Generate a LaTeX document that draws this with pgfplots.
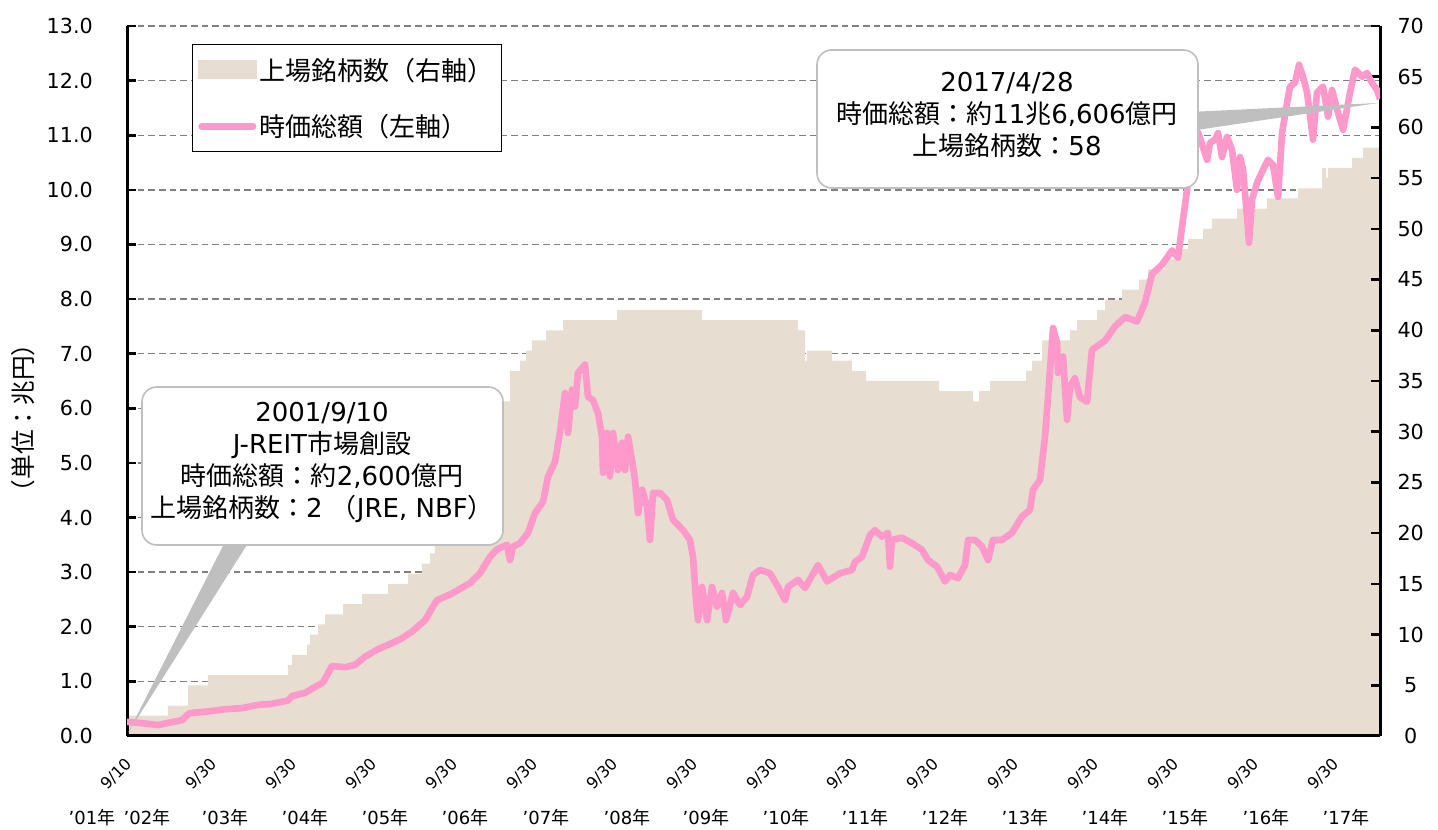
\documentclass[border=0pt]{standalone}
\usepackage{fontspec}
\setmainfont{DejaVu Sans}
\newfontfamily\jp{Noto Sans CJK JP}
\usepackage{pgfplots}
\pgfplotsset{compat=1.18}
\definecolor{beige}{RGB}{231,221,208}
\definecolor{pinkc}{RGB}{255,153,204}
\definecolor{gridc}{RGB}{128,128,128}
\definecolor{callg}{RGB}{191,191,191}

\pgfplotstableread{
x n
2001.690 2
2002.201 3
2002.451 5
2002.700 6
2003.698 7
2003.748 8
2003.936 9
2003.973 10
2004.073 11
2004.160 12
2004.385 13
2004.622 14
2004.946 15
2005.196 16
2005.370 17
2005.470 18
2005.532 19
2005.657 21
2005.782 23
2005.907 25
2006.031 27
2006.156 29
2006.268 31
2006.381 33
2006.468 36
2006.593 37
2006.668 38
2006.742 39
2006.917 40
2007.129 41
2007.803 42
2008.863 41
2010.061 40
2010.148 37
2010.173 38
2010.485 37
2010.734 36
2010.909 35
2011.820 34
2012.244 33
2012.319 34
2012.456 35
2012.905 36
2012.980 37
2013.105 39
2013.454 40
2013.541 41
2013.791 42
2013.891 43
2014.103 44
2014.315 45
2014.427 46
2014.639 47
2014.826 48
2014.926 49
2015.113 50
2015.225 51
2015.537 52
2015.912 53
2016.298 54
2016.598 56
2016.648 55
2016.673 56
2016.972 57
2017.109 58
2017.321 58
}\countdata

\pgfplotstableread{
x v
2001.690 0.26
2001.915 0.23
2002.077 0.20
2002.201 0.24
2002.376 0.29
2002.439 0.38
2002.476 0.42
2002.700 0.45
2002.913 0.49
2003.125 0.51
2003.324 0.57
2003.499 0.59
2003.698 0.65
2003.748 0.73
2003.911 0.79
2004.073 0.93
2004.135 0.98
2004.247 1.28
2004.410 1.26
2004.534 1.30
2004.659 1.45
2004.821 1.59
2004.996 1.70
2005.121 1.79
2005.245 1.91
2005.408 2.12
2005.495 2.34
2005.557 2.49
2005.657 2.55
2005.757 2.62
2005.969 2.80
2006.094 2.98
2006.218 3.28
2006.306 3.42
2006.431 3.50
2006.468 3.22
2006.505 3.47
2006.593 3.53
2006.693 3.72
2006.780 4.08
2006.880 4.29
2006.942 4.75
2007.029 5.02
2007.092 5.57
2007.154 6.28
2007.192 5.55
2007.241 6.34
2007.279 6.03
2007.316 6.65
2007.404 6.80
2007.441 6.21
2007.503 6.15
2007.566 5.91
2007.616 5.48
2007.628 4.82
2007.678 5.55
2007.715 4.75
2007.753 5.55
2007.815 4.87
2007.865 5.37
2007.903 4.87
2007.940 5.48
2007.990 5.05
2008.027 4.69
2008.065 4.08
2008.115 4.51
2008.177 4.20
2008.214 3.59
2008.252 4.45
2008.339 4.45
2008.427 4.32
2008.501 3.96
2008.626 3.77
2008.713 3.59
2008.751 3.28
2008.788 2.49
2008.813 2.12
2008.863 2.73
2008.926 2.12
2008.988 2.73
2009.050 2.37
2009.113 2.62
2009.163 2.12
2009.250 2.62
2009.337 2.40
2009.425 2.55
2009.499 2.95
2009.587 3.04
2009.711 2.98
2009.811 2.73
2009.899 2.49
2009.936 2.73
2010.061 2.86
2010.148 2.71
2010.310 3.13
2010.423 2.83
2010.585 2.98
2010.734 3.04
2010.772 3.19
2010.859 3.28
2010.959 3.68
2011.021 3.77
2011.109 3.65
2011.184 3.72
2011.208 3.10
2011.233 3.59
2011.358 3.63
2011.483 3.53
2011.608 3.41
2011.683 3.22
2011.795 3.10
2011.895 2.83
2011.957 2.95
2012.057 2.89
2012.144 3.13
2012.182 3.59
2012.269 3.59
2012.356 3.47
2012.431 3.22
2012.493 3.59
2012.606 3.59
2012.730 3.72
2012.855 4.02
2012.955 4.14
2012.992 4.51
2013.080 4.69
2013.142 5.48
2013.180 6.21
2013.242 7.47
2013.292 7.20
2013.304 6.65
2013.367 6.95
2013.417 5.79
2013.454 6.40
2013.516 6.55
2013.579 6.20
2013.666 6.12
2013.728 7.07
2013.891 7.24
2014.015 7.50
2014.140 7.67
2014.290 7.59
2014.390 7.94
2014.477 8.46
2014.602 8.63
2014.726 8.89
2014.801 8.76
2014.851 9.32
2014.914 10.00
2014.976 10.88
2015.051 11.06
2015.163 10.55
2015.200 10.86
2015.263 10.92
2015.300 11.04
2015.350 10.60
2015.413 10.97
2015.475 10.73
2015.537 10.00
2015.575 10.60
2015.612 10.37
2015.662 9.51
2015.687 9.03
2015.724 9.82
2015.787 10.13
2015.862 10.37
2015.924 10.55
2015.986 10.46
2016.049 9.87
2016.099 11.04
2016.161 11.59
2016.198 11.89
2016.261 11.96
2016.311 12.29
2016.361 12.07
2016.411 11.78
2016.485 10.92
2016.535 11.78
2016.610 11.89
2016.673 11.34
2016.722 11.83
2016.797 11.41
2016.860 11.10
2016.947 11.78
2017.009 12.20
2017.097 12.07
2017.159 12.14
2017.221 11.96
2017.284 11.83
2017.321 11.66
}\capdata

\pgfplotsset{
  base/.style={scale only axis, width=939.75pt, height=532.5pt,
    at={(95.25pt,70.5pt)}, anchor=south west,
    xmin=2001.69, xmax=2017.321,
    /pgf/number format/assume math mode=true},
}

\begin{document}
\begin{tikzpicture}
\useasboundingbox (0,0) rectangle (1078.5pt,622.5pt);

% grid (left scale)
\begin{axis}[base, ymin=0, ymax=13, ytick distance=1, ymajorgrids,
  major grid style={draw=gridc, line width=1pt, dash pattern=on 5pt off 3pt},
  axis line style={draw=none}, tick style={draw=none}, xtick=\empty,
  yticklabels={,,,,,,,,,,,,,,,}]
\end{axis}

% right axis: number of listed REITs
\begin{axis}[base, ymin=0, ymax=70, ytick distance=5,
  axis y line*=right, axis x line*=bottom, xtick=\empty,
  axis line style={-, line width=2.25pt, black}, axis on top,
  tick align=inside, major tick length=6.5pt,
  ytick style={line width=2pt, black},
  yticklabel style={font=\fontsize{15.5}{18}\selectfont, anchor=center, inner sep=0pt, xshift=23pt}]
\addplot[const plot, fill=beige, draw=none] table[x=x, y=n] {\countdata} \closedcycle;
\end{axis}

% left axis: market cap
\begin{axis}[base, ymin=0, ymax=13, ytick distance=1,
  axis y line*=left, axis x line*=bottom,
  axis line style={-, line width=2.25pt, black},
  tick align=inside, major tick length=6.5pt,
  ytick style={line width=2pt, black},
  xtick style={draw=none},
  xtick={2001.69,2002.746,2003.746,2004.746,2005.746,2006.746,2007.746,2008.746,2009.746,2010.746,2011.746,2012.746,2013.746,2014.746,2015.746,2016.746},
  xticklabels={9/10,9/30,9/30,9/30,9/30,9/30,9/30,9/30,9/30,9/30,9/30,9/30,9/30,9/30,9/30,9/30},
  xticklabel style={font=\fontsize{12}{14}\selectfont, inner sep=0pt, yshift=-19pt, xshift=2pt, rotate=45, anchor=east},
  yticklabel style={font=\fontsize{15.5}{18}\selectfont, anchor=east, inner sep=0pt, xshift=-25.5pt,
    /pgf/number format/fixed, /pgf/number format/fixed zerofill, /pgf/number format/precision=1},
  legend style={at={(rel axis cs:0.0519,0.9746)}, anchor=north west, draw=black, line width=0.75pt,
    fill=white, font=\jp\fontsize{19.5}{23}\selectfont, inner xsep=4pt, inner ysep=8pt, row sep=20pt,
    cells={anchor=west}},
]
\addlegendimage{legend image code/.code={\fill[beige] (0pt,-6.75pt) rectangle (43.5pt,6.75pt);}}
\addlegendentry{上場銘柄数（右軸）\hspace{15pt}}
\addplot[pinkc, line width=5pt, line join=round,
  legend image code/.code={\draw[pinkc, line width=5pt, line cap=round] (2.5pt,0pt) -- (41pt,0pt);}]
  table[x=x, y=v] {\capdata};
\addlegendentry{時価総額（左軸）}
\end{axis}

\begin{scope}[shift={(0pt,622.5pt)}, x=0.75pt, y=-0.75pt]
\node[rotate=90, font=\jp\fontsize{18.5}{22}\selectfont] at (23,418) {（単位：兆円）};
\foreach \xx/\yy in {92/01,147/02,225/03,305/04,385/05,465/06,546/07,627/08,706/09,786/10,865/11,945/12,1025/13,1105/14,1185/15,1266/16,1346/17}
  \node[font=\fontsize{13.5}{16}\selectfont] at (\xx,818) {’\yy{\jp 年}};
% callout 1
\fill[callg] (226,540) -- (128,733) -- (250,540) -- cycle;
\draw[callg, line width=1.2pt, fill=white, rounded corners=11pt] (142,387) rectangle (503,545);
\node[align=center, font=\fontsize{19.5}{24}\selectfont] at (322,462)
  {2001/9/10\\J-REIT{\jp 市場創設}\\{\jp 時価総額：約}2,600{\jp 億円}\\{\jp 上場銘柄数：}2 {\jp （}JRE, NBF{\jp ）}};
% callout 2
\fill[callg] (1190,112) -- (1378,103) -- (1190,131) -- cycle;
\draw[callg, line width=1.2pt, fill=white, rounded corners=11pt] (817,50) rectangle (1198,188);
\node[align=center, font=\fontsize{19.5}{24}\selectfont] at (1007,115)
  {2017/4/28\\{\jp 時価総額：約}11{\jp 兆}6,606{\jp 億円}\\{\jp 上場銘柄数：}58};
\end{scope}
\end{tikzpicture}
\end{document}
